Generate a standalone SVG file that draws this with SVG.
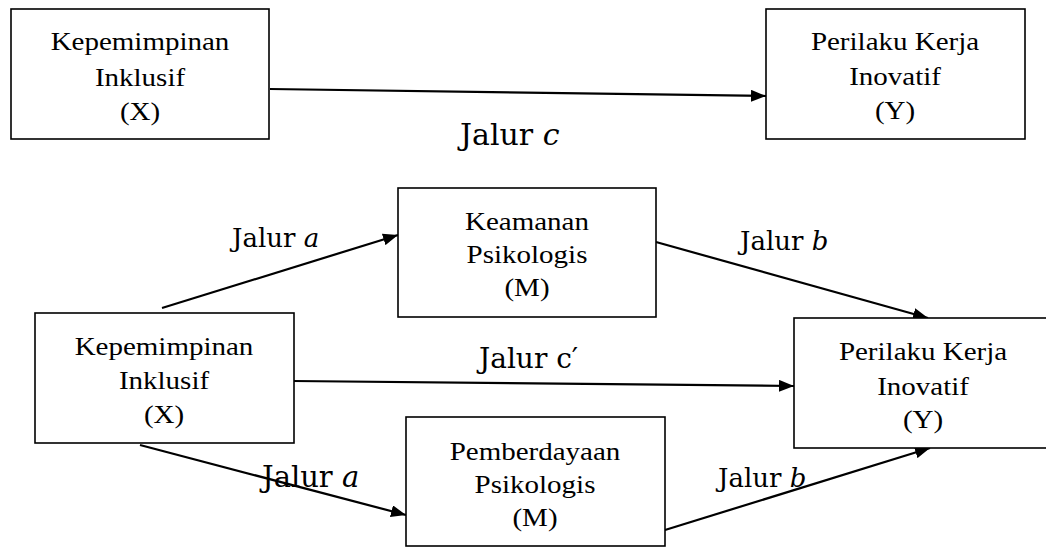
<svg xmlns="http://www.w3.org/2000/svg" width="1046" height="547" viewBox="0 0 1046 547">
  <style>
    .box { fill: #ffffff; stroke: #000000; stroke-width: 1.6; }
    .bt { font-family: "Liberation Serif", "Times New Roman", serif; font-size: 25px; fill: #000000; text-anchor: middle; }
    .lbl { font-family: "DejaVu Serif", "Liberation Serif", serif; fill: #000000; }
    .it { font-style: italic; }
    .conn { stroke: #000000; stroke-width: 2.2; fill: none; marker-end: url(#ah); }
  </style>
  <defs>
    <marker id="ah" viewBox="0 0 15 12" refX="15" refY="6" markerWidth="15" markerHeight="12" markerUnits="userSpaceOnUse" orient="auto">
      <path d="M0,0 L15,6 L0,12 z" fill="#000000"/>
    </marker>
  </defs>
  <rect width="1046" height="547" fill="#ffffff"/>

  <g id="connectors">
    <line class="conn" x1="270" y1="89" x2="766" y2="96"/>
    <line class="conn" x1="162" y1="308" x2="398" y2="235"/>
    <line class="conn" x1="656" y1="242" x2="928" y2="318"/>
    <line class="conn" x1="293" y1="381" x2="794" y2="386"/>
    <line class="conn" x1="140" y1="445" x2="406" y2="515"/>
    <line class="conn" x1="665" y1="530" x2="930" y2="448"/>
  </g>

  <g id="labels">
    <text class="lbl" x="460" y="145" font-size="30">Jalur <tspan class="it">c</tspan></text>
    <text class="lbl" x="232" y="247" font-size="26">Jalur <tspan class="it">a</tspan></text>
    <text class="lbl" x="740" y="250" font-size="26">Jalur <tspan class="it">b</tspan></text>
    <text class="lbl" x="479" y="368" font-size="28">Jalur c′</text>
    <text class="lbl" x="262" y="487" font-size="29">Jalur <tspan class="it">a</tspan></text>
    <text class="lbl" x="718" y="487" font-size="26">Jalur <tspan class="it">b</tspan></text>
  </g>

  <g id="node-x-top">
    <rect class="box" x="11" y="9" width="258" height="130"/>
    <text class="bt" transform="translate(140,50) scale(1.16,1)">Kepemimpinan</text>
    <text class="bt" transform="translate(140,86) scale(1.16,1)">Inklusif</text>
    <text class="bt" transform="translate(140,120) scale(1.16,1)">(X)</text>
  </g>

  <g id="node-y-top">
    <rect class="box" x="766" y="9" width="259" height="130"/>
    <text class="bt" transform="translate(895,50) scale(1.16,1)">Perilaku Kerja</text>
    <text class="bt" transform="translate(895,85) scale(1.16,1)">Inovatif</text>
    <text class="bt" transform="translate(895,119) scale(1.16,1)">(Y)</text>
  </g>

  <g id="node-m1">
    <rect class="box" x="398" y="188" width="258" height="129"/>
    <text class="bt" transform="translate(527,230) scale(1.16,1)">Keamanan</text>
    <text class="bt" transform="translate(527,263) scale(1.16,1)">Psikologis</text>
    <text class="bt" transform="translate(527,296) scale(1.16,1)">(M)</text>
  </g>

  <g id="node-x-bottom">
    <rect class="box" x="35" y="313" width="259" height="130"/>
    <text class="bt" transform="translate(164,355) scale(1.16,1)">Kepemimpinan</text>
    <text class="bt" transform="translate(164,389) scale(1.16,1)">Inklusif</text>
    <text class="bt" transform="translate(164,423) scale(1.16,1)">(X)</text>
  </g>

  <g id="node-y-bottom">
    <rect class="box" x="794" y="318" width="260" height="130"/>
    <text class="bt" transform="translate(923,360) scale(1.16,1)">Perilaku Kerja</text>
    <text class="bt" transform="translate(923,395) scale(1.16,1)">Inovatif</text>
    <text class="bt" transform="translate(923,428) scale(1.16,1)">(Y)</text>
  </g>

  <g id="node-m2">
    <rect class="box" x="406" y="417" width="259" height="129"/>
    <text class="bt" transform="translate(535,460) scale(1.16,1)">Pemberdayaan</text>
    <text class="bt" transform="translate(535,493) scale(1.16,1)">Psikologis</text>
    <text class="bt" transform="translate(535,526) scale(1.16,1)">(M)</text>
  </g>
</svg>
